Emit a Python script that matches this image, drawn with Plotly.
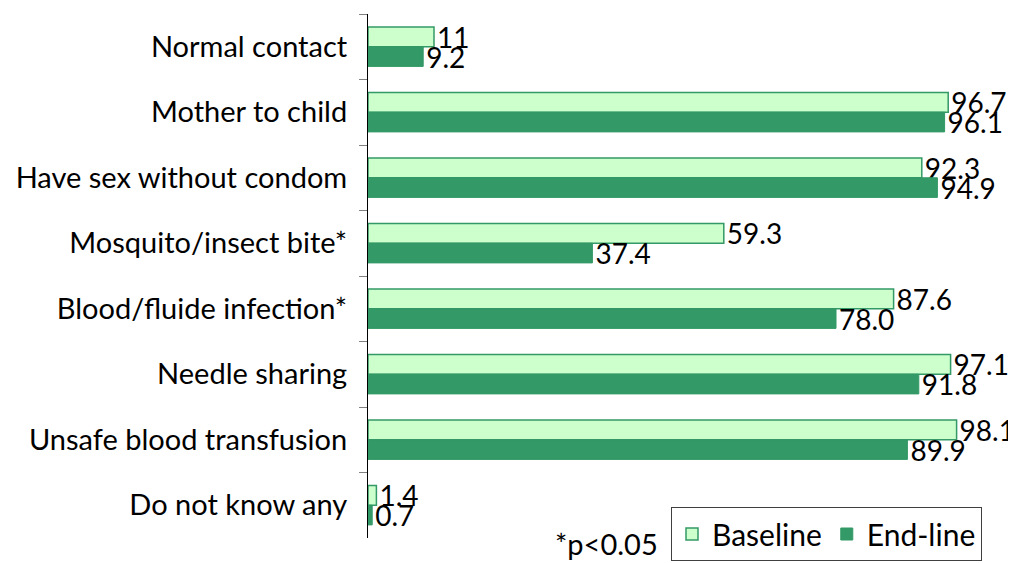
import plotly.graph_objects as go

categories = ["Normal contact", "Mother to child", "Have sex without condom",
              "Mosquito/insect bite*", "Blood/fluide infection*", "Needle sharing",
              "Unsafe blood transfusion", "Do not know any"]
baseline = [11, 96.7, 92.3, 59.3, 87.6, 97.1, 98.1, 1.4]
endline = [9.2, 96.1, 94.9, 37.4, 78.0, 91.8, 89.9, 0.7]
baseline_labels = ["11", "96.7", "92.3", "59.3", "87.6", "97.1", "98.1", "1.4"]
endline_labels = ["9.2", "96.1", "94.9", "37.4", "78.0", "91.8", "89.9", "0.7"]

FONT = "Lato"
LIGHT = "#CCFFCC"
DARK = "#339966"

fig = go.Figure()
fig.add_trace(go.Bar(
    y=categories, x=baseline, name="Baseline", orientation="h",
    marker=dict(color=LIGHT, line=dict(color=DARK, width=1.5)),
    text=baseline_labels, textposition="outside", constraintext="none",
    textfont=dict(family=FONT, size=28, color="black"), cliponaxis=False,
))
fig.add_trace(go.Bar(
    y=categories, x=endline, name="End-line", orientation="h",
    marker=dict(color=DARK, line=dict(color=DARK, width=1)),
    text=endline_labels, textposition="outside", constraintext="none",
    textfont=dict(family=FONT, size=28, color="black"), cliponaxis=False,
))

# page body has an 8px margin, so the figure is shifted by 8px
fig.update_layout(
    width=1008, height=555,
    margin=dict(l=360, r=0, t=6, b=25),
    paper_bgcolor="white", plot_bgcolor="white",
    barmode="group", bargap=0.4, bargroupgap=0,
    font=dict(family=FONT, size=29, color="black"),
    showlegend=True,
    legend=dict(orientation="h", x=(671 - 368) / 648, y=(538 - 507) / 524,
                xanchor="left", yanchor="top",
                bordercolor="#404040", borderwidth=1, bgcolor="white",
                font=dict(family=FONT, size=30), traceorder="normal",
                itemwidth=30),
    xaxis=dict(range=[0, 108], visible=False, showgrid=False, zeroline=False,
               automargin=False),
    yaxis=dict(autorange="reversed", showline=True, linecolor="black", linewidth=1,
               ticks="outside", tickson="boundaries", ticklen=8, tickcolor="#808080",
               showgrid=False, ticklabelstandoff=14, automargin=False,
               tickfont=dict(family=FONT, size=29, color="black")),
    annotations=[dict(text="*p<0.05", x=(553 - 368) / 648, y=(538 - 543) / 524,
                      xref="paper", yref="paper", xanchor="left", yanchor="middle",
                      showarrow=False, font=dict(family=FONT, size=29))],
)

fig.write_html("out.html")
